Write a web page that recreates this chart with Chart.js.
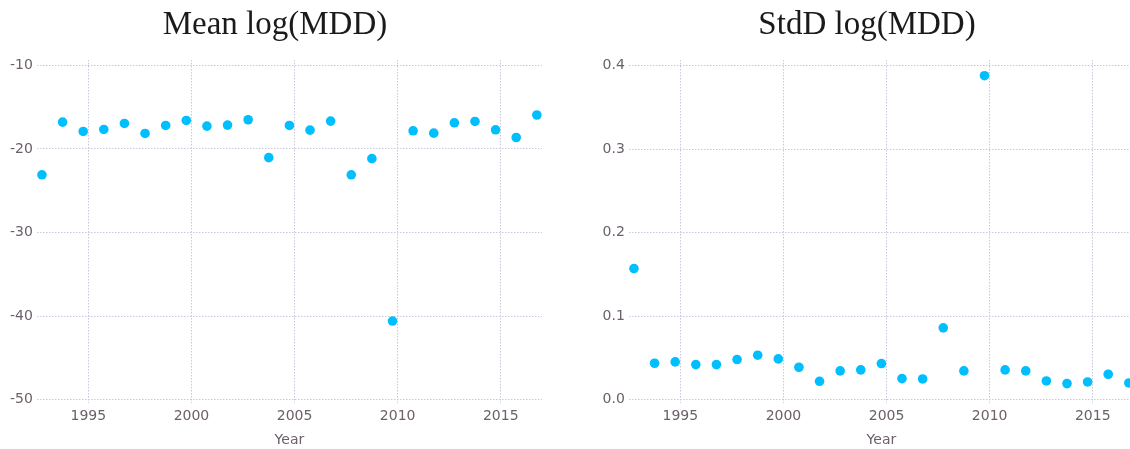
<!DOCTYPE html>
<html>
<head>
<meta charset="utf-8">
<script src="https://cdn.jsdelivr.net/npm/chart.js@4/dist/chart.umd.min.js"></script>
<style>
	html, body { margin: 0; padding: 0; overflow: hidden; background: #fff; width: 1130px; height: 449px; }
	canvas { position: absolute; top: 0; }
	#js-mean-chart { left: 0; }
	#js-std-chart { left: 591.6px; }
</style>
</head>
<body>
<canvas id="js-mean-chart" width="551" height="449"></canvas>
<canvas id="js-std-chart" width="551" height="449"></canvas>
<script>
const years = [
	1992.75, 1993.75, 1994.75, 1995.75, 1996.75, 1997.75, 1998.75, 1999.75, 2000.75,
	2001.75, 2002.75, 2003.75, 2004.75, 2005.75, 2006.75, 2007.75, 2008.75, 2009.75,
	2010.75, 2011.75, 2012.75, 2013.75, 2014.75, 2015.75, 2016.75,
];
const meanLogMdd = [
	-23.09, -16.79, -17.91, -17.67, -16.95, -18.15, -17.19, -16.59, -17.27,
	-17.15, -16.51, -21.04, -17.19, -17.75, -16.67, -23.09, -21.16, -40.59,
	-17.83, -18.11, -16.87, -16.71, -17.71, -18.63, -15.94,
];
const stdLogMdd = [
	0.157, 0.0436, 0.0452, 0.042, 0.042, 0.048, 0.0532, 0.0488, 0.0388,
	0.022, 0.0344, 0.0356, 0.0432, 0.0252, 0.0248, 0.086, 0.0344, 0.388,
	0.0356, 0.0344, 0.0224, 0.0192, 0.0212, 0.0304, 0.02,
];
const xTicks = [1995, 2000, 2005, 2010, 2015];
const meanTicks = [-50, -40, -30, -20, -10];
const stdTicks = [0, 0.1, 0.2, 0.3, 0.4];

const tickColor = '#6c606b';
const gridColor = '#c8c8dc';
const pointColor = '#00bfff';

function makeChart(id, title, values, yMin, yMax, yTicks, fmt) {
	const ctx = document.getElementById(id);
	return new Chart(ctx, {
		type: 'scatter',
		data: {
			datasets: [
				{
					data: years.map((y, i) => ({ x: y, y: values[i] })),
					backgroundColor: pointColor,
					borderColor: pointColor,
					borderWidth: 0,
					pointRadius: 4.8,
					clip: false,
				},
			],
		},
		options: {
			responsive: false,
			animation: false,
			// left padding only nudges the title centre; axis width below keeps the plot in place
			layout: { padding: { left: 8, right: 9, top: 0, bottom: 0 } },
			plugins: {
				legend: { display: false },
				tooltip: { enabled: false },
				title: {
					display: true,
					text: title,
					color: '#1a1a1a',
					font: { family: '"Liberation Serif", serif', size: 33, weight: 'normal' },
					padding: { top: 6, bottom: 14.4 },
				},
			},
			scales: {
				x: {
					type: 'linear',
					min: 1992.5,
					max: 2017,
					afterBuildTicks: (scale) => {
						scale.ticks = xTicks.map((v) => ({ value: v }));
					},
					grid: { color: gridColor, drawTicks: false, lineWidth: 1 },
					border: { display: false, dash: [1.5, 1.5] },
					ticks: {
						color: tickColor,
						padding: 5,
						maxRotation: 0,
						font: { family: '"DejaVu Sans", sans-serif', size: 14 },
						callback: (v) => String(v),
					},
					title: {
						display: true,
						text: 'Year',
						color: tickColor,
						padding: { top: 2, bottom: 0 },
						font: { family: '"DejaVu Sans", sans-serif', size: 14 },
					},
				},
				y: {
					min: yMin,
					max: yMax,
					afterBuildTicks: (scale) => {
						scale.ticks = yTicks.map((v) => ({ value: v }));
					},
					afterFit: (scale) => {
						scale.width = 28.8;
					},
					grid: { color: gridColor, drawTicks: false, lineWidth: 1 },
					border: { display: false, dash: [1.5, 1.5] },
					ticks: {
						color: tickColor,
						padding: 4,
						font: { family: '"DejaVu Sans", sans-serif', size: 14 },
						callback: fmt,
					},
				},
			},
		},
	});
}

makeChart('js-mean-chart', 'Mean log(MDD)', meanLogMdd, -50.44, -9.36, meanTicks, (v) => String(v));
makeChart('js-std-chart', 'StdD log(MDD)', stdLogMdd, -0.0045, 0.4068, stdTicks, (v) => v.toFixed(1));
</script>
</body>
</html>
